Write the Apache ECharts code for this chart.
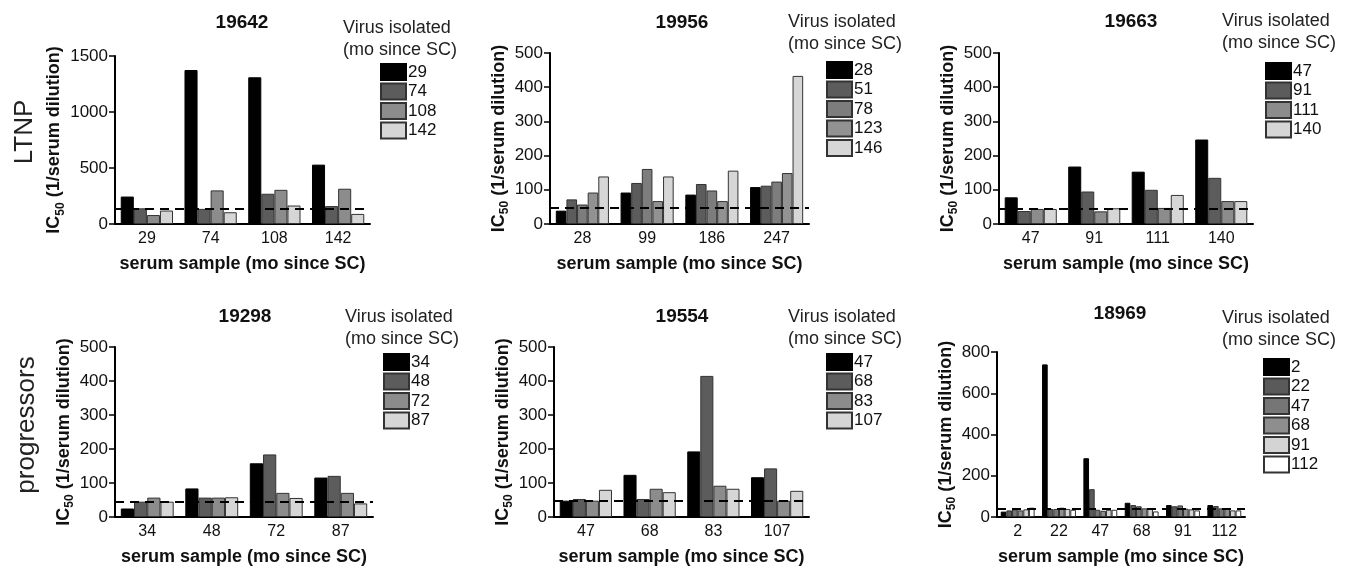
<!DOCTYPE html>
<html>
<head>
<meta charset="utf-8">
<script src="https://cdn.jsdelivr.net/npm/echarts@6/dist/echarts.min.js"></script>
<style>
  html, body { margin: 0; padding: 0; background: #fff; }
  #main { width: 1350px; height: 569px; }
</style>
</head>
<body>
<div id="main"></div>
<script>
'use strict';
// panel titles (subject ids)
const titles = ['19642', '19956', '19663', '19298', '19554', '18969'];

// serum sample months (x categories)
const serum19642 = ['29', '74', '108', '142'];
const serum19956 = ['28', '99', '186', '247'];
const serum19663 = ['47', '91', '111', '140'];
const serum19298 = ['34', '48', '72', '87'];
const serum19554 = ['47', '68', '83', '107'];
const serum18969 = ['2', '22', '47', '68', '91', '112'];

// virus isolate months (one series each)
const virus19642 = ['29', '74', '108', '142'];
const virus19956 = ['28', '51', '78', '123', '146'];
const virus19663 = ['47', '91', '111', '140'];
const virus19298 = ['34', '48', '72', '87'];
const virus19554 = ['47', '68', '83', '107'];
const virus18969 = ['2', '22', '47', '68', '91', '112'];

// IC50 values, one row per virus isolate, across serum samples
const ic19642 = [
    [245, 1375, 1310, 530],
    [140, 135, 270, 160],
    [80, 300, 305, 315],
    [120, 105, 165, 90]
];
const ic19956 = [
    [39, 92, 86, 108],
    [72, 120, 117, 112],
    [57, 161, 98, 124],
    [92, 67, 67, 149],
    [139, 139, 156, 433]
];
const ic19663 = [
    [78, 168, 153, 247],
    [38, 95, 100, 135],
    [44, 37, 47, 67],
    [44, 46, 85, 67]
];
const ic19298 = [
    [25, 84, 158, 116],
    [45, 57, 184, 121],
    [57, 57, 71, 71],
    [45, 58, 56, 40]
];
const ic19554 = [
    [48, 124, 193, 117],
    [53, 53, 415, 143],
    [48, 83, 92, 48],
    [80, 73, 83, 77]
];
const ic18969 = [
    [26, 740, 285, 69, 58, 58],
    [32, 39, 135, 58, 52, 53],
    [37, 39, 35, 52, 56, 42],
    [32, 45, 30, 42, 40, 39],
    [37, 39, 35, 40, 37, 32],
    [45, 35, 35, 27, 32, 32]
];

// assay cutoff (dashed line)
const cutoffs = [135, 48, 45, 44, 47, 40];
// y axis max and step
const yMax = [1500, 500, 500, 500, 500, 800];
const yStep = [500, 100, 100, 100, 100, 200];

const serumList = [serum19642, serum19956, serum19663, serum19298, serum19554, serum18969];
const virusList = [virus19642, virus19956, virus19663, virus19298, virus19554, virus18969];
const icList = [ic19642, ic19956, ic19663, ic19298, ic19554, ic18969];

// layout
const boxes = [
    [115, 56, 255, 168],
    [550, 53, 259, 171],
    [999, 53, 254, 171],
    [115, 347, 258, 170],
    [554, 347, 255, 170],
    [997, 352, 248, 165]
];
const titlePos = [[242, 13], [682, 13], [1131, 12], [245, 307], [682, 307], [1120, 304]];
const headPos = [[343, 28], [788, 22], [1222, 21], [345, 317], [788, 317], [1222, 318]];
const legendPos = [[380, 63], [826, 61], [1265, 62], [383, 353], [826, 353], [1263, 358]];

const palettes = {
    4: ['#000000', '#5c5c5c', '#8c8c8c', '#d6d6d6'],
    5: ['#000000', '#5c5c5c', '#7d7d7d', '#929292', '#d6d6d6'],
    6: ['#000000', '#5a5a5a', '#767676', '#8e8e8e', '#d4d4d4', '#ffffff']
};

const FONT = '"Liberation Sans", Arial, sans-serif';

let dom = document.getElementById('main');
let myChart = echarts.init(dom, null, { renderer: 'canvas' });

let grids = [], xAxes = [], yAxes = [], series = [], legends = [], titleList = [], graphics = [];

for (let p = 0; p < 6; p++) {
    let b = boxes[p];
    grids.push({ left: b[0], top: b[1], width: b[2], height: b[3] });

    xAxes.push({
        gridIndex: p,
        type: 'category',
        data: serumList[p],
        axisLine: { lineStyle: { color: '#000', width: 2 } },
        axisTick: { alignWithLabel: true, length: 6, lineStyle: { color: '#000', width: 1.5 } },
        axisLabel: { color: '#111', fontSize: 16, fontFamily: FONT, margin: 7 },
        name: 'serum sample (mo since SC)',
        nameLocation: 'middle',
        nameGap: 31,
        nameTextStyle: { color: '#111', fontSize: 18, fontWeight: 'bold', fontFamily: FONT }
    });

    yAxes.push({
        gridIndex: p,
        type: 'value',
        min: 0,
        max: yMax[p],
        interval: yStep[p],
        splitLine: { show: false },
        axisLine: { show: true, lineStyle: { color: '#000', width: 2 } },
        axisTick: { show: true, length: 6, lineStyle: { color: '#000', width: 1.5 } },
        axisLabel: {
            color: '#111', fontSize: 17, fontFamily: FONT, margin: 7,
            formatter: function (v) { return String(v); }
        },
        name: '{a|IC}{s|50}{a| (1/serum dilution)}',
        nameLocation: 'middle',
        nameGap: 40,
        nameTextStyle: {
            rich: {
                a: { fontSize: 18, fontWeight: 'bold', fontFamily: FONT, color: '#111', verticalAlign: 'top', lineHeight: 20 },
                s: { fontSize: 12, fontWeight: 'bold', fontFamily: FONT, color: '#111', verticalAlign: 'top', lineHeight: 12, padding: [9, 0, 0, 0] }
            }
        }
    });

    let colors = palettes[virusList[p].length];
    let names = [];
    virusList[p].forEach(function (v, k) {
        let nm = titles[p] + '|' + v;
        names.push(nm);
        let s = {
            name: nm,
            type: 'bar',
            xAxisIndex: p,
            yAxisIndex: p,
            barGap: '0%',
            barCategoryGap: '18%',
            data: icList[p][k],
            itemStyle: { color: colors[k], borderColor: k === 0 ? '#000' : '#333', borderWidth: 1 }
        };
        if (k === virusList[p].length - 1) {
            s.markLine = {
                silent: true,
                symbol: 'none',
                label: { show: false },
                lineStyle: { type: [9, 6], color: '#000', width: 2 },
                data: [{ yAxis: cutoffs[p] }]
            };
        }
        series.push(s);
    });

    legends.push({
        data: names,
        orient: 'vertical',
        left: legendPos[p][0],
        top: legendPos[p][1],
        padding: 0,
        icon: 'rect',
        itemWidth: 25,
        itemHeight: 16,
        itemGap: 1.5,
        selectedMode: false,
        formatter: function (name) { return name.split('|')[1]; },
        textStyle: { color: '#111', fontSize: 17, fontFamily: FONT, lineHeight: 16, padding: [0, 0, 0, -3] }
    });

    titleList.push({
        text: titles[p],
        left: titlePos[p][0],
        top: titlePos[p][1],
        padding: 0,
        textAlign: 'center',
        textStyle: { color: '#111', fontSize: 19, fontWeight: 'bold', fontFamily: FONT }
    });

    graphics.push({
        type: 'text',
        left: headPos[p][0],
        top: headPos[p][1] - 11,
        style: {
            text: 'Virus isolated\n(mo since SC)',
            fill: '#222',
            font: '18px ' + FONT,
            lineHeight: 22
        }
    });
}

graphics.push({
    type: 'text',
    x: 25, y: 132,
    rotation: Math.PI / 2,
    style: { text: 'LTNP', fill: '#222', font: '26px ' + FONT, align: 'center', verticalAlign: 'middle' }
});
graphics.push({
    type: 'text',
    x: 27, y: 425,
    rotation: Math.PI / 2,
    style: { text: 'progressors', fill: '#222', font: '26px ' + FONT, align: 'center', verticalAlign: 'middle' }
});

let option = {
    backgroundColor: '#fff',
    animation: false,
    title: titleList,
    grid: grids,
    xAxis: xAxes,
    yAxis: yAxes,
    legend: legends,
    series: series,
    graphic: graphics
};

if (option && typeof option === 'object') {
    myChart.setOption(option, true);
}
</script>
</body>
</html>
